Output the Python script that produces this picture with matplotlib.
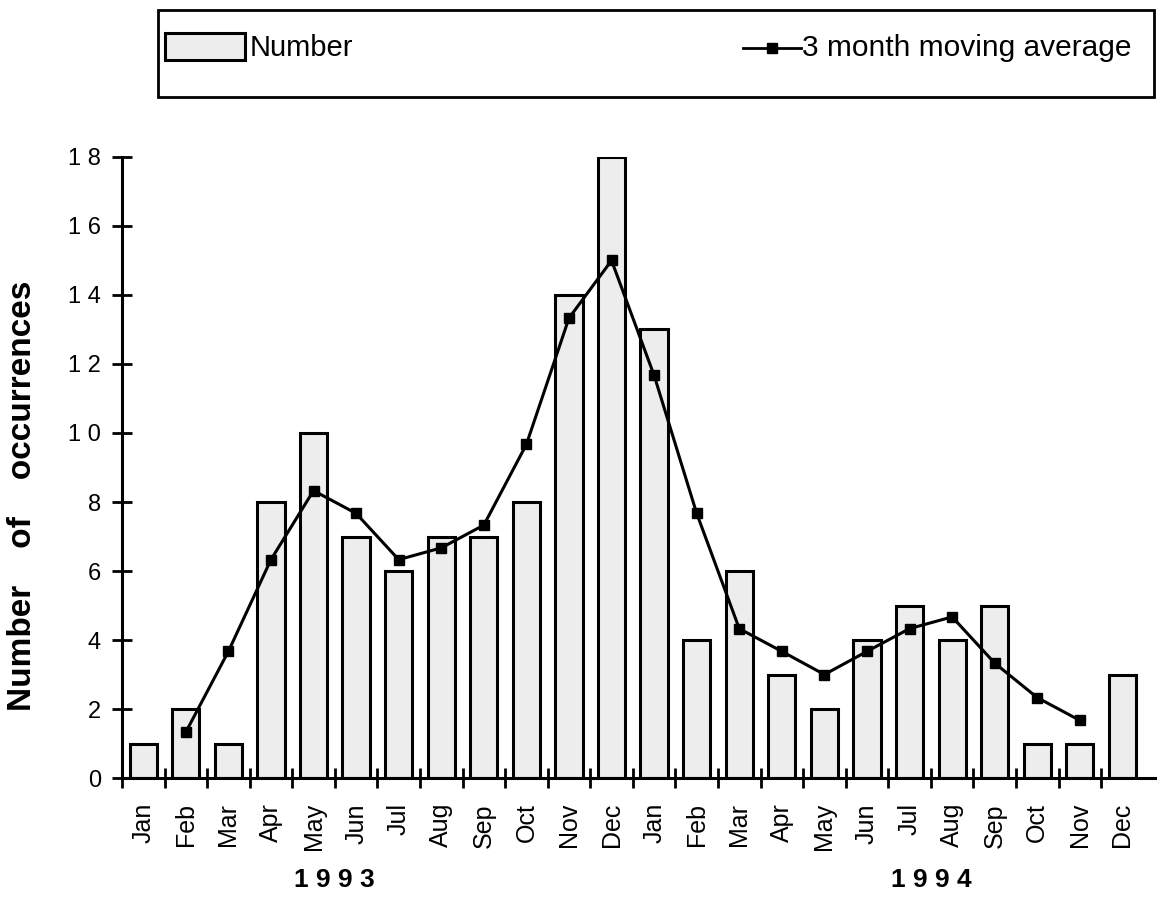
import numpy as np
import matplotlib.pyplot as plt
from matplotlib.patches import Rectangle
from matplotlib.lines import Line2D

plt.rcParams['font.family'] = ['Liberation Sans', 'DejaVu Sans']

# monthly counts, Jan 1993 .. Dec 1994
months = ['Jan', 'Feb', 'Mar', 'Apr', 'May', 'Jun',
          'Jul', 'Aug', 'Sep', 'Oct', 'Nov', 'Dec'] * 2
counts = [1, 2, 1, 8, 10, 7, 6, 7, 7, 8, 14, 18,
          13, 4, 6, 3, 2, 4, 5, 4, 5, 1, 1, 3]

# 3 month moving average, plotted Feb 1993 .. Nov 1994
avg_idx = list(range(1, 23))
avg_vals = [1.33, 3.67, 6.33, 8.33, 7.67, 6.33, 6.67, 7.33, 9.67, 13.33, 15.0,
            11.67, 7.67, 4.33, 3.67, 3.0, 3.67, 4.33, 4.67, 3.33, 2.33, 1.67]

years = ['1993', '1994']
year_pos = [4.5, 18.5]

fig = plt.figure(figsize=(11.57, 8.98), dpi=100)
ax = fig.add_axes([0.1054, 0.1336, 0.896, 0.6916])

x = np.arange(len(counts))
bar_fill = '#ededed'
ax.bar(x, counts, width=0.64, color=bar_fill, edgecolor='black', linewidth=2.2, zorder=2)
ax.plot(avg_idx, avg_vals, color='black', lw=2.2, marker='s', markersize=7, zorder=3)

ax.set_xlim(-0.5, 23.85)
ax.set_ylim(0, 18)

# y axis
yt = np.arange(0, 19, 2)
ax.set_yticks(yt)
ax.set_yticklabels([' '.join(str(v)) for v in yt], fontsize=17)
ax.set_ylabel('Number    of    occurrences', fontsize=24, fontweight='bold')
ax.yaxis.set_label_coords(-0.081, 0.455)

# x axis: ticks between bars, labels at bar centres
ax.set_xticks(np.arange(-0.5, 23, 1))
ax.set_xticklabels([])
ax.set_xticks(x, minor=True)
ax.set_xticklabels(months, minor=True, rotation=90, fontsize=18)
ax.tick_params(axis='x', which='minor', length=0, pad=18)
ax.tick_params(axis='x', which='major', direction='inout', length=14, width=2)
ax.tick_params(axis='y', direction='inout', length=14, width=2, pad=8)

for s in ['top', 'right']:
    ax.spines[s].set_visible(False)
for s in ['left', 'bottom']:
    ax.spines[s].set_linewidth(2.2)

for yr, p in zip(years, year_pos):
    ax.text(p, -2.95, ' '.join(yr), ha='center', va='center', fontsize=19,
            fontweight='bold', clip_on=False)

# legend box drawn in figure coordinates
fig.patches.append(Rectangle((0.1366, 0.892), 0.861, 0.097, transform=fig.transFigure,
                             fill=False, edgecolor='black', linewidth=2))
fig.patches.append(Rectangle((0.143, 0.933), 0.069, 0.030, transform=fig.transFigure,
                             facecolor=bar_fill, edgecolor='black', linewidth=2.2))
fig.text(0.216, 0.947, 'Number', fontsize=21, va='center', ha='left')
fig.lines.append(Line2D([0.642, 0.692], [0.947, 0.947], transform=fig.transFigure,
                        color='black', lw=2))
fig.lines.append(Line2D([0.667], [0.947], transform=fig.transFigure,
                        color='black', marker='s', markersize=7, lw=0))
fig.text(0.693, 0.947, '3 month moving average', fontsize=21.5, va='center', ha='left')

fig.savefig('out.png', dpi=100)
